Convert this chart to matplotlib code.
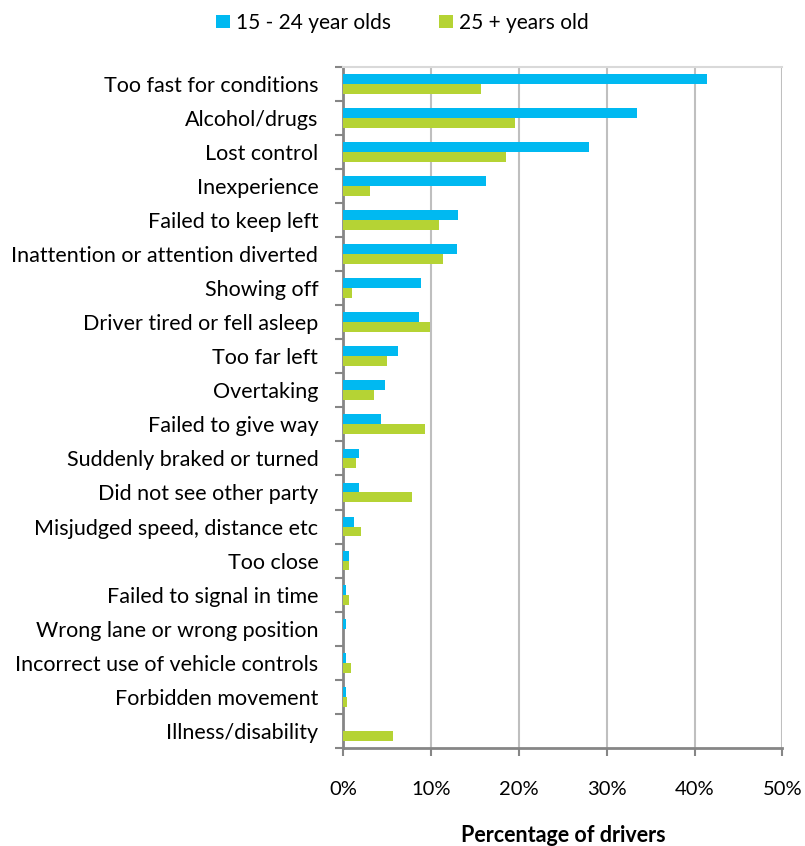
import matplotlib
matplotlib.use("Agg")
import matplotlib.pyplot as plt
import numpy as np
from matplotlib.ticker import FixedLocator, PercentFormatter

categories = [
    "Too fast for conditions", "Alcohol/drugs", "Lost control", "Inexperience",
    "Failed to keep left", "Inattention or attention diverted", "Showing off",
    "Driver tired or fell asleep", "Too far left", "Overtaking", "Failed to give way",
    "Suddenly braked or turned", "Did not see other party", "Misjudged speed, distance etc",
    "Too close", "Failed to signal in time", "Wrong lane or wrong position",
    "Incorrect use of vehicle controls", "Forbidden movement", "Illness/disability",
]
young = [41.4, 33.4, 27.95, 16.3, 13.1, 12.9, 8.85, 8.6, 6.25, 4.8, 4.25,
         1.8, 1.8, 1.25, 0.65, 0.25, 0.25, 0.25, 0.25, 0.0]
older = [15.7, 19.5, 18.5, 3.0, 10.85, 11.3, 1.0, 9.85, 5.0, 3.45, 9.3,
         1.4, 7.85, 2.05, 0.65, 0.65, 0.0, 0.85, 0.4, 5.65]
series_names = ["15 - 24 year olds", "25 + years old"]
colors = ["#00B9F1", "#B5D334"]

plt.rcParams['font.family'] = ['Lato', 'DejaVu Sans']

fig = plt.figure(figsize=(8.05, 8.46), dpi=100)
ax = fig.add_axes([0.4265, 0.116, 0.5455, 0.805])

n = len(categories)
y = np.arange(n)
h = 0.29
ax.barh(y - h / 2, young, height=h, color=colors[0], label=series_names[0], zorder=3)
ax.barh(y + h / 2, older, height=h, color=colors[1], label=series_names[1], zorder=3)

ax.set_ylim(n - 0.5, -0.5)
ax.set_xlim(0, 50)
ax.set_yticks(y)
ax.set_yticklabels(categories, fontsize=15.5)
ax.yaxis.set_minor_locator(FixedLocator(np.arange(-0.5, n, 1)))
ax.tick_params(axis='y', which='major', length=0, pad=18)
ax.tick_params(axis='y', which='minor', length=6, width=1.5, color='#868686')
ax.set_xticks(np.arange(0, 51, 10))
ax.xaxis.set_major_formatter(PercentFormatter(decimals=0))
ax.tick_params(axis='x', length=6, width=1.5, color='#868686', labelsize=14.5, pad=18)

ax.grid(axis='x', color='#BFBFBF', linewidth=1.5, zorder=0)
for s in ['left', 'bottom']:
    ax.spines[s].set_color('#868686')
    ax.spines[s].set_linewidth(2)
ax.spines['top'].set_color('#D9D9D9')
ax.spines['top'].set_linewidth(1.5)
ax.spines['right'].set_visible(False)

ax.set_xlabel("Percentage of drivers", fontsize=15.5, fontweight='bold', labelpad=19)

fig.legend(loc='upper center', bbox_to_anchor=(0.5, 1.007), ncol=2, frameon=False,
           fontsize=15, handlelength=0.65, handleheight=0.65, handletextpad=0.3,
           columnspacing=2.3)

fig.savefig("out.png", dpi=100)
